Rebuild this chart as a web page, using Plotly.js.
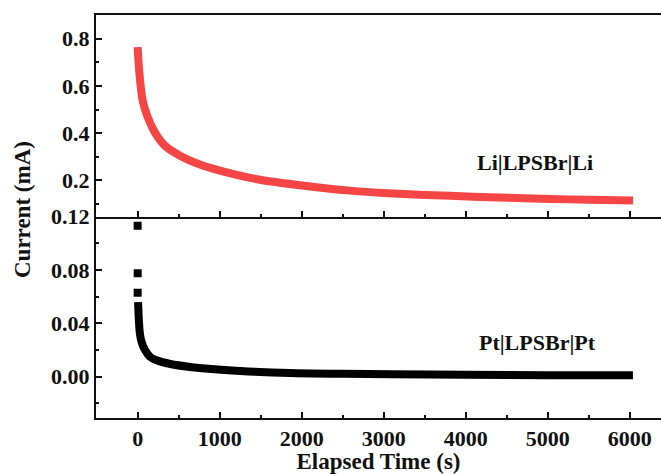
<!DOCTYPE html>
<html>
<head>
<meta charset="utf-8">
<script src="https://cdn.plot.ly/plotly-3.0.1.min.js"></script>
<style>html,body{margin:0;padding:0;background:#fff;}#chart{width:661px;height:474px;}
#chart .xtick text, #chart .ytick text, #chart .x2tick text, #chart .y2tick text {font-weight: 700 !important;}</style>
</head>
<body>
<div id="chart"></div>
<script>
// Li|LPSBr|Li (top panel)
const liTime = [0, 20, 61, 120, 215, 330, 516, 750, 1003, 1491, 1979, 2589, 3052, 3808, 4400, 5028, 5500, 6040];
const liCurrent = [0.764, 0.657, 0.538, 0.47, 0.40, 0.348, 0.305, 0.269, 0.242, 0.203, 0.18, 0.157, 0.146, 0.135, 0.128, 0.122, 0.118, 0.115];
// Pt|LPSBr|Pt (bottom panel): first isolated points, then dense band
const ptEarlyTime = [0, 0, 0];
const ptEarlyCurrent = [0.1133, 0.0776, 0.063];
const ptTime = [5, 15, 28, 48, 89, 150, 231, 400, 638, 900, 1248, 1857, 2500, 3077, 4000, 5000, 6040];
const ptCurrent = [0.056, 0.042, 0.032, 0.026, 0.020, 0.015, 0.0123, 0.0095, 0.0073, 0.0057, 0.0043, 0.0028, 0.0022, 0.0018, 0.0014, 0.0011, 0.0010];
const labels = ["Li|LPSBr|Li", "Pt|LPSBr|Pt"];
// tick labels
const xTickVals = [0, 1000, 2000, 3000, 4000, 5000, 6000];
const xTickText = ["0", "1000", "2000", "3000", "4000", "5000", "6000"];
const yTopTickVals = [0.2, 0.4, 0.6, 0.8];
const yTopTickText = ["0.2", "0.4", "0.6", "0.8"];
const yBotTickVals = [0, 0.04, 0.08, 0.12];
const yBotTickText = ["0.00", "0.04", "0.08", "0.12"];

const FONT = "Liberation Serif, Times New Roman, serif";
const AX = "#111";
const tf = {family: FONT, size: 22, color: AX, weight: 700};
const titleFont = {family: FONT, size: 23, color: AX, weight: 700};
const bold = a => a.map(s => '<b>' + s + '</b>');

const traces = [
  {x: liTime, y: liCurrent, xaxis: 'x2', yaxis: 'y2', mode: 'lines',
   line: {color: '#f54545', width: 8, shape: 'spline', smoothing: 0.8}, hoverinfo: 'skip'},
  {x: ptTime, y: ptCurrent, xaxis: 'x', yaxis: 'y', mode: 'lines',
   line: {color: '#000', width: 8, shape: 'spline', smoothing: 0.8}, hoverinfo: 'skip'},
  {x: ptEarlyTime, y: ptEarlyCurrent, xaxis: 'x', yaxis: 'y', mode: 'markers',
   marker: {symbol: 'square', size: 8, color: '#000'}, hoverinfo: 'skip'}
];

const xCommon = {
  range: [-508, 6382], tickmode: 'array', tickvals: xTickVals, ticktext: bold(xTickText),
  ticks: 'inside', ticklen: 6, tickwidth: 2, tickcolor: AX,
  minor: {dtick: 500, tick0: 0, ticks: 'inside', ticklen: 3, tickwidth: 2, tickcolor: AX},
  showline: true, linecolor: AX, linewidth: 2, showgrid: false, zeroline: false,
  tickfont: tf
};

const yCommon = {
  ticks: 'inside', ticklen: 6, tickwidth: 2, tickcolor: AX,
  showline: true, linecolor: AX, linewidth: 2, showgrid: false, zeroline: false,
  tickfont: tf, tickmode: 'array'
};

const layout = {
  width: 661, height: 474,
  margin: {l: 96, r: 0, t: 15, b: 56},
  paper_bgcolor: '#fff', plot_bgcolor: '#fff',
  showlegend: false,
  font: {family: FONT, size: 21, color: AX, weight: 700},
  xaxis: Object.assign({}, xCommon, {anchor: 'y',
    title: {text: '<b>Elapsed Time (s)</b>', font: titleFont, standoff: 3}}),
  xaxis2: Object.assign({}, xCommon, {anchor: 'y2', matches: 'x', showticklabels: false, mirror: true}),
  yaxis: Object.assign({}, yCommon, {domain: [0, 0.5], range: [-0.031, 0.1202],
    tickvals: yBotTickVals, ticktext: bold(yBotTickText),
    minor: {tickvals: [-0.02, 0.02, 0.06, 0.10], ticks: 'inside', ticklen: 3, tickwidth: 2, tickcolor: AX},
    anchor: 'x'}),
  yaxis2: Object.assign({}, yCommon, {domain: [0.5, 1], range: [0.0475, 0.9],
    tickvals: yTopTickVals, ticktext: bold(yTopTickText),
    minor: {tickvals: [0.1, 0.3, 0.5, 0.7], ticks: 'inside', ticklen: 3, tickwidth: 2, tickcolor: AX},
    anchor: 'x2'}),
  annotations: [
    {x: 4845, y: 0.276, xref: 'x2', yref: 'y2', text: '<b>' + labels[0] + '</b>', showarrow: false,
     font: {family: FONT, size: 22, color: AX}},
    {x: 4881, y: 0.026, xref: 'x', yref: 'y', text: '<b>' + labels[1] + '</b>', showarrow: false,
     font: {family: FONT, size: 22, color: AX}},
    {x: (22 - 96) / 565, y: (474 - 56 - 210) / (474 - 56 - 15), xref: 'paper', yref: 'paper',
     xanchor: 'center', yanchor: 'middle',
     text: '<b>Current (mA)</b>', showarrow: false,
     textangle: -90, font: titleFont}
  ]
};

Plotly.newPlot('chart', traces, layout, {displayModeBar: false, staticPlot: true});
</script>
</body>
</html>
